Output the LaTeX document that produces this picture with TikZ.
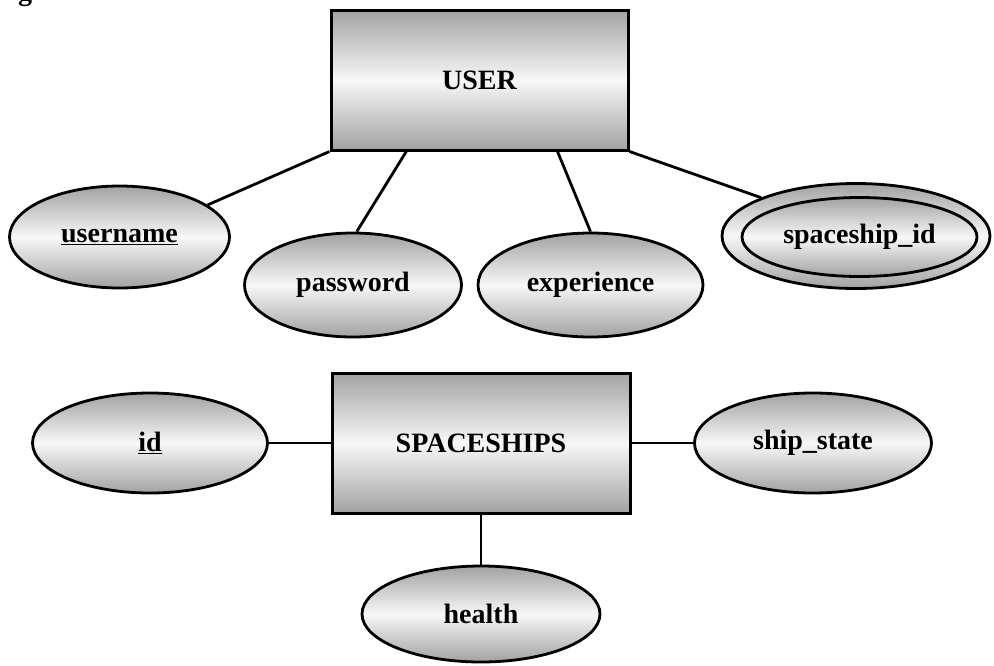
\documentclass[tikz,border=0pt]{standalone}
\usepackage{fontspec}
\setmainfont{Liberation Serif}
\usetikzlibrary{shapes.geometric,calc}
\pgfdeclarelayer{background}
\pgfsetlayers{background,main}

\definecolor{shadeedge}{HTML}{A2A2A2}
\definecolor{shadelight}{HTML}{F7F7F7}

\begin{document}
\begin{tikzpicture}[x=1pt,y=-1pt,
  erfont/.style={font=\fontsize{28}{31}\selectfont\bfseries},
  entity/.style={erfont, draw=black, line width=3pt, rectangle, inner sep=0pt,
    minimum width=297pt, minimum height=140pt,
    top color=shadeedge, bottom color=shadeedge, middle color=shadelight},
  attr/.style={erfont, draw=black, line width=2.8pt, ellipse, inner sep=0pt,
    top color=shadeedge, bottom color=shadeedge, middle color=shadelight},
  link/.style={draw=black, line width=2.8pt}
]
\useasboundingbox (0,0) rectangle (994,665);

% caption fragment cut by the top edge
\begin{scope}
  \clip (0,0) rectangle (994,665);
  \node[erfont, anchor=base, inner sep=0pt] (cap) at (25,0.5) {g};
\end{scope}

% entities
\node[entity] (user) at (479.5,80) {USER};
\node[entity, minimum width=298pt] (ships) at (481,443) {SPACESHIPS};

% attributes of USER
\node[attr, minimum width=220pt, minimum height=102pt] (username) at (119.5,237) {\underline{username}};
\node[attr, minimum width=217pt, minimum height=104pt] (password) at (353,285) {password};
\node[attr, minimum width=225pt, minimum height=104pt] (experience) at (590.5,285) {experience};
\node[attr, minimum width=268pt, minimum height=105pt] (spaceshipouter) at (856,236) {};
\node[attr, minimum width=235pt, minimum height=79pt] (spaceship) at (859.5,237) {spaceship\_id};

% attributes of SPACESHIPS
\node[attr, minimum width=235pt, minimum height=100pt] (id) at (150,443) {\underline{id}};
\node[attr, minimum width=237pt, minimum height=100pt] (shipstate) at (813,443) {ship\_state};
\node[attr, minimum width=238pt, minimum height=96pt] (health) at (481,614) {health};

% connectors
\begin{pgfonlayer}{background}
  \draw[link] (user.south west) -- (username.20);
  \draw[link] ($(user.south west)!0.256!(user.south east)$) -- (password.86);
  \draw[link] ($(user.south west)!0.76!(user.south east)$) -- (experience.90);
  \draw[link] (user.south east) -- (spaceshipouter.158);
  \draw[link] (id.east) -- (ships.west);
  \draw[link] (ships.east) -- (shipstate.west);
  \draw[link] (ships.south) -- (health.north);
\end{pgfonlayer}
\end{tikzpicture}
\end{document}
